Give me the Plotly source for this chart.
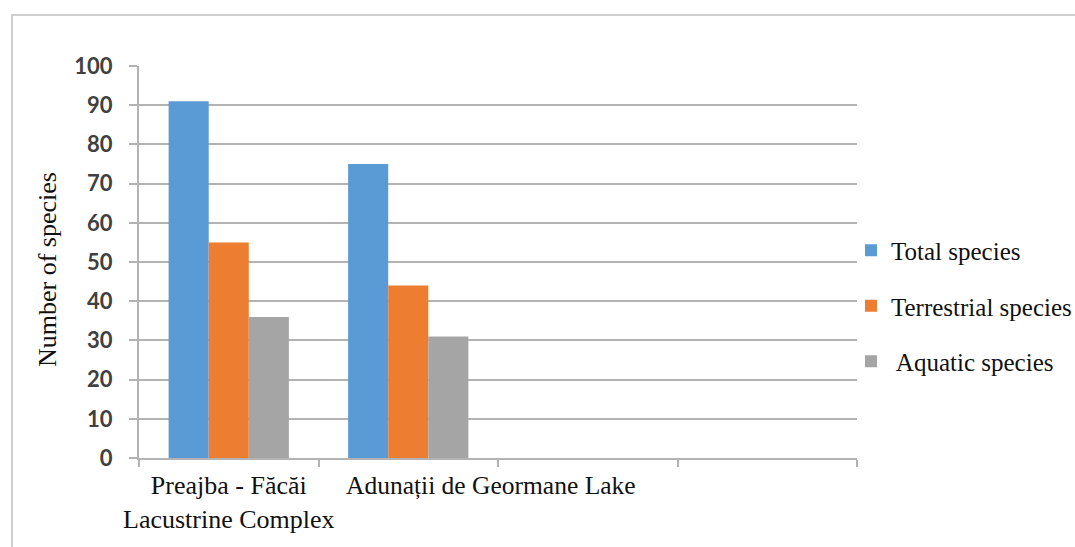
import plotly.graph_objects as go

categories = ["Preajba - Făcăi<br>Lacustrine Complex", "Adunații de Geormane Lake", "", ""]
series_names = ["Total species", "Terrestrial species", " Aquatic species"]
total_species = [91, 75, None, None]
terrestrial_species = [55, 44, None, None]
aquatic_species = [36, 31, None, None]
y_ticks = list(range(0, 101, 10))

colors = ["#5B9BD5", "#ED7D31", "#A5A5A5"]
series_values = [total_species, terrestrial_species, aquatic_species]

x_idx = list(range(len(categories)))

fig = go.Figure()
for i, (name, vals, col) in enumerate(zip(series_names, series_values, colors)):
    fig.add_trace(go.Bar(
        x=x_idx, y=vals, name=name, marker=dict(color=col, line=dict(width=0)),
        legendgroup=f"g{i}",
    ))

L, R, T, B = 139, 218, 66, 89
W, H = 1075, 547
pw = W - L - R
ph = H - T - B

grid_col = "#B3B3B3"
serif = "Liberation Serif, Times New Roman, serif"
txt_col = "#111111"

fig.update_layout(
    width=W, height=H,
    margin=dict(l=L, r=R, t=T, b=B, pad=0, autoexpand=False),
    paper_bgcolor="white", plot_bgcolor="white",
    barmode="group", bargap=0.33, bargroupgap=0,
    showlegend=True,
    legend=dict(
        x=(851 - L) / pw, xanchor="left",
        y=(458 - 306) / ph, yanchor="middle",
        font=dict(family=serif, size=25, color=txt_col),
        tracegroupgap=20,
        bgcolor="rgba(0,0,0,0)",
    ),
    xaxis=dict(
        range=[-0.5, len(categories) - 0.5],
        tickmode="array",
        tickvals=[i - 0.5 for i in range(len(categories) + 1)],
        showticklabels=False,
        ticks="outside", ticklen=7, tickwidth=2, tickcolor=grid_col,
        showline=True, linecolor=grid_col, linewidth=2,
        showgrid=False, zeroline=False, fixedrange=True,
    ),
    yaxis=dict(
        range=[0, 100], tickmode="array", tickvals=y_ticks,
        ticks="outside", ticklen=8, tickwidth=2, tickcolor=grid_col,
        showgrid=True, gridcolor=grid_col, gridwidth=2,
        showline=True, linecolor=grid_col, linewidth=2,
        zeroline=False,
        tickfont=dict(family="Lato, Liberation Sans, sans-serif", size=22, color="#404040", weight="bold"),
        ticklabelstandoff=12,
    ),
)

# category labels
fig.add_annotation(x=0, y=-0.028, xref="x", yref="paper", text=categories[0],
                   showarrow=False, xanchor="center", yanchor="top", align="center",
                   font=dict(family=serif, size=26, color=txt_col))
fig.add_annotation(x=0.64, y=-0.028, xref="x", yref="paper", text=categories[1],
                   showarrow=False, xanchor="left", yanchor="top", align="left",
                   font=dict(family=serif, size=25.5, color=txt_col))

# y-axis title
fig.add_annotation(x=(47 - L) / pw, y=(458 - 270) / ph, xref="paper", yref="paper",
                   text="Number of species", textangle=-90, showarrow=False,
                   xanchor="center", yanchor="middle",
                   font=dict(family=serif, size=26, color=txt_col))

# outer chart border
fig.add_shape(type="rect", xref="paper", yref="paper",
              x0=(12 - L) / pw, x1=(1090 - L) / pw,
              y0=(458 - 570) / ph, y1=(458 - 15) / ph,
              line=dict(color="#CFCFCF", width=2), fillcolor="rgba(0,0,0,0)", layer="below")

fig.write_html("out.html")
